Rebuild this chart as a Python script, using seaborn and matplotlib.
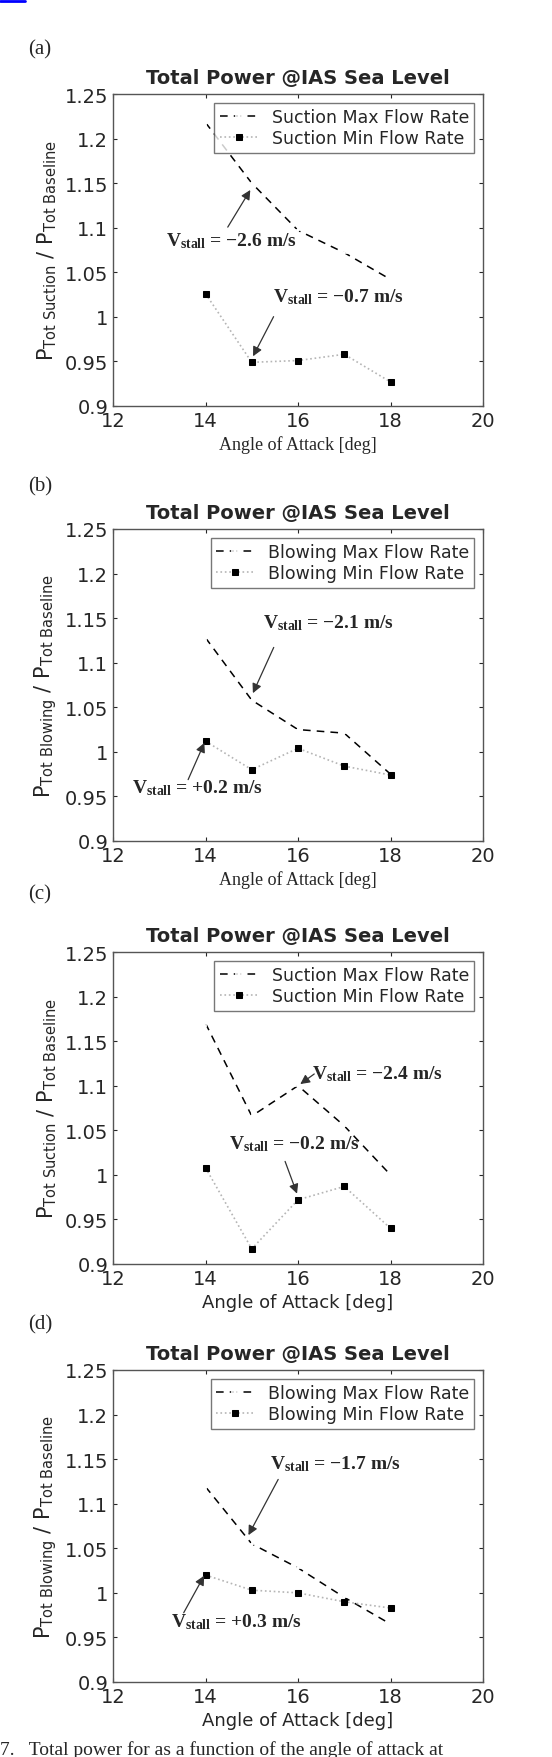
import numpy as np
import pandas as pd
import matplotlib
matplotlib.use("Agg")
import matplotlib.pyplot as plt
import seaborn as sns
from matplotlib.lines import Line2D

sns.set_style("ticks")
plt.rcParams['font.family'] = ['DejaVu Sans']
plt.rcParams['mathtext.fontset'] = 'custom'
plt.rcParams['mathtext.rm'] = 'DejaVu Sans'
plt.rcParams['mathtext.it'] = 'DejaVu Sans:italic'
plt.rcParams['mathtext.bf'] = 'Liberation Serif:bold'

# === dati ===
aoa = [14, 15, 16, 17, 18]
max_a = [1.218, 1.150, 1.097, 1.072, 1.042]
min_a = [1.026, 0.949, 0.951, 0.958, 0.927]
max_b = [1.128, 1.058, 1.025, 1.021, 0.975]
min_b = [1.012, 0.980, 1.004, 0.984, 0.974]
max_c = [1.170, 1.066, 1.100, 1.055, 1.000]
min_c = [1.008, 0.917, 0.972, 0.987, 0.940]
max_d = [1.119, 1.055, 1.028, 0.995, 0.965]
min_d = [1.020, 1.003, 1.000, 0.990, 0.983]

modes = ["Suction", "Blowing", "Suction", "Blowing"]
panel_labels = ["(a)", "(b)", "(c)", "(d)"]
xticks = [12, 14, 16, 18, 20]
yticks = [0.9, 0.95, 1.0, 1.05, 1.1, 1.15, 1.2, 1.25]
ytick_labels = ["0.9", "0.95", "1", "1.05", "1.1", "1.15", "1.2", "1.25"]

# annotazioni: (testo, pos testo, punta freccia, coda freccia)
notes = [
    [("-2.6", (13.15, 1.080), (15.0, 1.145), (14.45, 1.098)),
     ("-0.7", (15.45, 1.018), (15.0, 0.953), (15.5, 1.003))],
    [("-2.1", (15.25, 1.140), (15.0, 1.063), (15.5, 1.120)),
     ("+0.2", (12.4, 0.955), (14.0, 1.013), (13.6, 0.966))],
    [("-2.4", (16.3, 1.108), (16.0, 1.100), (16.4, 1.115)),
     ("-0.2", (14.5, 1.030), (16.0, 0.976), (15.7, 1.018))],
    [("-1.7", (15.4, 1.140), (14.9, 1.062), (15.6, 1.130)),
     ("+0.3", (13.25, 0.962), (14.0, 1.022), (13.5, 0.975))],
]

series = [(max_a, min_a), (max_b, min_b), (max_c, min_c), (max_d, min_d)]

W, H = 552, 1758
fig = plt.figure(figsize=(W / 100, H / 100), dpi=100)

tops = [95, 530, 953, 1371]
label_y = [50, 487, 895, 1325]
ax_h = 312
left, width = 113, 370

for i in range(4):
    ax = fig.add_axes([left / W, 1 - (tops[i] + ax_h) / H, width / W, ax_h / H])
    mode = modes[i]
    mx, mn = series[i]
    df = pd.DataFrame({"aoa": aoa, "max": mx, "min": mn})
    sns.lineplot(data=df, x="aoa", y="max", ax=ax, color="black", lw=1.1,
                 linestyle=(0, (5, 4)), marker="+", markersize=6, mew=1.2,
                 label=f"{mode} Max Flow Rate")
    sns.lineplot(data=df, x="aoa", y="min", ax=ax, color="#b5b5b5", lw=1.2,
                 linestyle=":", marker="s", markersize=5, markerfacecolor="black",
                 markeredgecolor="black", label=f"{mode} Min Flow Rate")
    ax.set_xlim(12, 20)
    ax.set_ylim(0.9, 1.25)
    ax.set_xticks(xticks)
    ax.set_yticks(yticks)
    ax.set_yticklabels(ytick_labels)
    ax.tick_params(direction="in", labelsize=14, top=True, right=True, length=3)
    for s in ax.spines.values():
        s.set_color("#555555")
        s.set_linewidth(1.0)
    ax.set_title("Total Power @IAS Sea Level", fontsize=14, fontweight="bold", pad=8)
    if i < 2:
        ax.set_xlabel("Angle of Attack [deg]", family="Liberation Serif", fontsize=13)
    else:
        ax.set_xlabel("Angle of Attack [deg]", fontsize=13)
    ax.set_ylabel(r"P$_{\rm Tot\ " + mode + r"}$ / P$_{\rm Tot\ Baseline}$",
                  fontsize=15, labelpad=4)
    leg = ax.legend(loc="upper right", fontsize=12.5, frameon=True, fancybox=False,
                    handlelength=2.2, borderaxespad=0.5, borderpad=0.3, labelspacing=0.2)
    leg.get_frame().set_edgecolor("#555555")
    for txt, tpos, head, tail in notes[i]:
        val = txt.replace("-", "\u2212")
        ax.text(tpos[0], tpos[1], r"$\mathbf{V_{stall}}$" + f" = {val} m/s",
                fontsize=14, fontweight="bold", family="Liberation Serif")
        ax.annotate("", xy=head, xytext=tail,
                    arrowprops=dict(arrowstyle="-|>", color="#333333", lw=0.9,
                                    mutation_scale=14))
    fig.text(28 / W, 1 - label_y[i] / H, panel_labels[i], fontsize=15,
             family="Liberation Serif", va="center")

fig.text(0, 1 - 1750 / H, "7.   Total power for as a function of the angle of attack at",
         fontsize=14, family="Liberation Serif", va="center")
fig.add_artist(Line2D([0, 25 / W], [1 - 2 / H, 1 - 2 / H], color="blue", lw=2))

plt.savefig("out.png", dpi=100)
